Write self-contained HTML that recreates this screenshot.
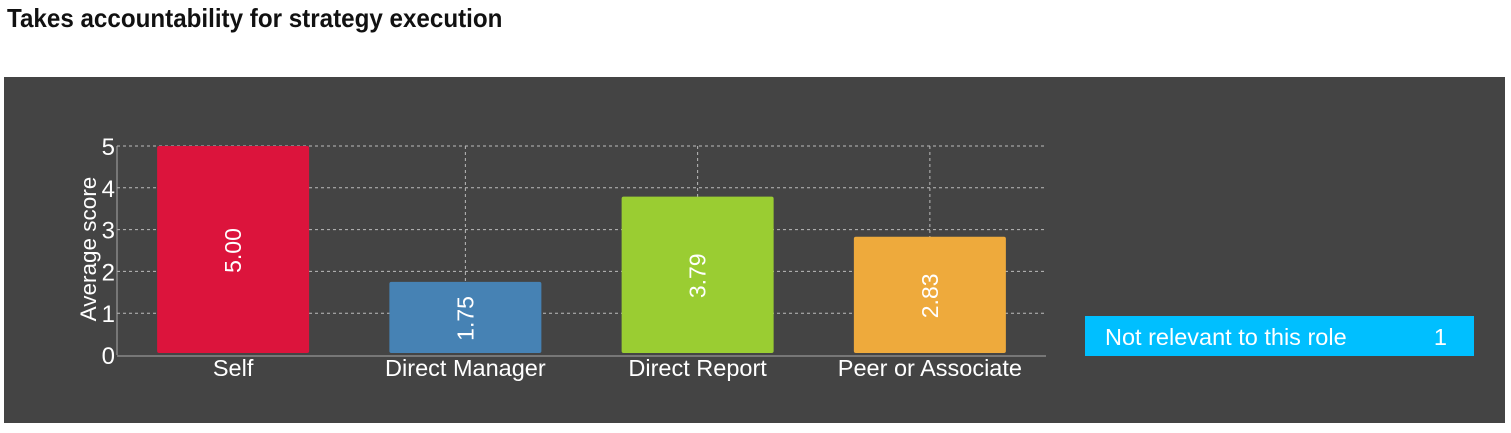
<!DOCTYPE html>
<html><head><meta charset="utf-8"><style>
body{margin:0;background:#fff;width:1511px;height:433px;overflow:hidden;font-family:"Liberation Sans",sans-serif}
#title{position:absolute;left:7px;top:3px;font-size:26px;font-weight:bold;color:#111;transform-origin:0 0;transform:scaleX(0.93)}
#panel{position:absolute;left:4px;top:77px;width:1501px;height:346px;background:#444}
</style></head><body>
<div id="title">Takes accountability for strategy execution</div>
<div id="panel"></div>
<svg id="chart" width="1511" height="433" style="position:absolute;left:0;top:0" font-family="Liberation Sans, sans-serif"></svg>
<script>
const categories=["Self","Direct Manager","Direct Report","Peer or Associate"];
const values=[5.00,1.75,3.79,2.83];
const labels=["5.00","1.75","3.79","2.83"];
const colors=["#DC143C","#4682B4","#9ACD32","#EEAA3C"];
const yTicks=[0,1,2,3,4,5];
const NS="http://www.w3.org/2000/svg";
const svg=document.getElementById('chart');
const x0=117,x1=1046,y0=355,yTop=146,yMax=5;
const y=v=>y0-(v/yMax)*(y0-yTop);
const band=(x1-x0)/categories.length;
const cx=i=>x0+band*(i+0.5);
function mk(t,a){const e=document.createElementNS(NS,t);for(const k in a)e.setAttribute(k,a[k]);svg.appendChild(e);return e;}
yTicks.forEach(t=>{
 if(t>0){const g=mk('line',{x1:x0,x2:x1,y1:y(t),y2:y(t),stroke:'#bbb','stroke-dasharray':'3,3','stroke-width':1});
 
 }
 const l=mk('text',{x:x0-2,y:y(t)+9,'text-anchor':'end',fill:'#fff','font-size':24});
 
 
 l.textContent=t;
});
categories.forEach((c,i)=>{
 if(i>0){const g=mk('line',{x1:cx(i),x2:cx(i),y1:yTop,y2:y0,stroke:'#bbb','stroke-dasharray':'3,3','stroke-width':1});
 
 }
});
mk('line',{x1:x0,x2:x0,y1:yTop,y2:y0,stroke:'#aaa','stroke-width':1});
mk('line',{x1:x0,x2:x1,y1:y0+1,y2:y0+1,stroke:'#aaa','stroke-width':1});
const bw=152;
categories.forEach((c,i)=>{
 const r=mk('rect',{x:cx(i)-bw/2,y:y(values[i]),width:bw,height:y0-2-y(values[i]),fill:colors[i],rx:2});
 
 
 const my=(y(values[i])+y0)/2;
 const vt=mk('text',{x:cx(i),y:my,'text-anchor':'middle','dominant-baseline':'central',fill:'#fff','font-size':23,transform:`rotate(-90 ${cx(i)} ${my})`});
 
 
 vt.textContent=labels[i];
 const ct=mk('text',{x:cx(i),y:376,'text-anchor':'middle',fill:'#fff','font-size':23.5});
 
 
 ct.textContent=c;
});
const yt=mk('text',{x:96,y:249,'text-anchor':'middle',fill:'#fff','font-size':22.5,transform:'rotate(-90 96 249)'});


yt.textContent='Average score';
const lb=mk('rect',{x:1085,y:316,width:389,height:40,fill:'#00BFFF'});


const lt=mk('text',{x:1105,y:345,fill:'#fff','font-size':23.5});


lt.textContent='Not relevant to this role';
const ln=mk('text',{x:1447,y:345,'text-anchor':'end',fill:'#fff','font-size':23.5});


ln.textContent='1';
</script>
</body></html>
